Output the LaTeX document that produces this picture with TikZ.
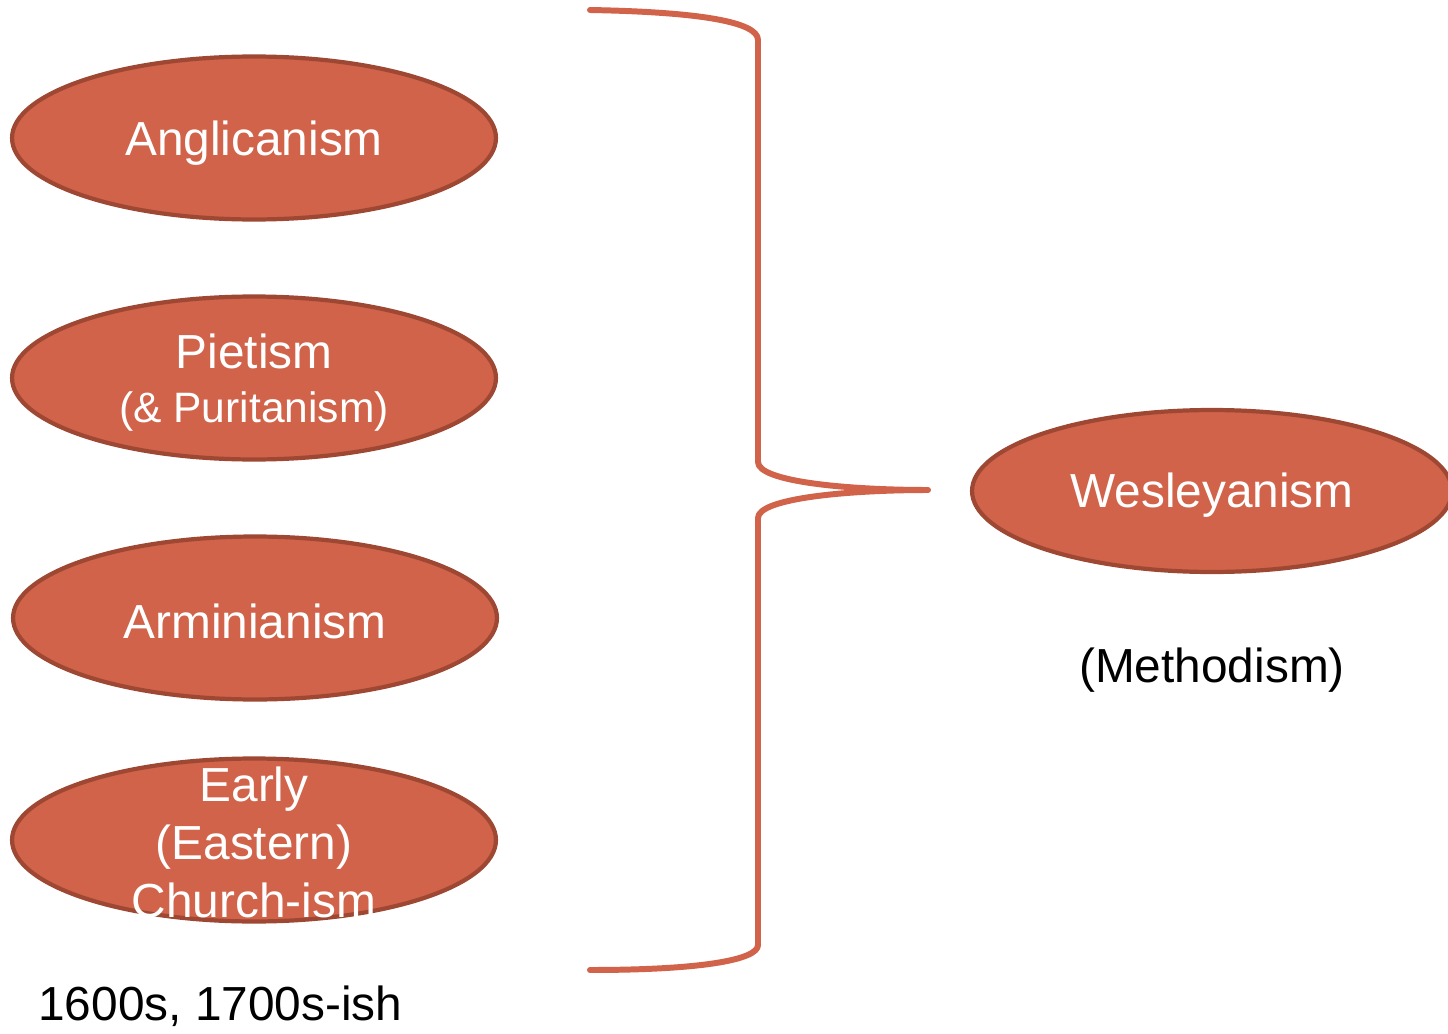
\documentclass[tikz,border=0pt]{standalone}
\usepackage{fontspec}
\setmainfont{Liberation Sans}
\usetikzlibrary{shapes.geometric}
\definecolor{rustfill}{RGB}{208,99,73}
\definecolor{rustedge}{RGB}{158,72,52}

\begin{document}
\begin{tikzpicture}[x=0.02cm,y=-0.02cm,
    bubble/.style={ellipse,fill=rustfill,draw=rustedge,line width=2.4pt,
        minimum width=9.68cm,minimum height=3.26cm,inner sep=0pt},
    bubbletext/.style={text=white,align=center,font=\fontsize{27.2}{33}\selectfont},
    plaintext/.style={text=black,font=\fontsize{27.2}{33}\selectfont}]
    \useasboundingbox (0,0) rectangle (1448,1034);

    % Four roots on the left
    \node[bubble] (angl) at (254,138) {};
    \node[bubbletext,yshift=-0.11cm] (angltext) at (angl.center) {Anglicanism};
    \node[bubble] (piet) at (254,378) {};
    \node[bubbletext,yshift=-0.1cm] (piettext) at (piet.center)
        {Pietism\\[-0.08cm]{\fontsize{24.2}{29}\selectfont(\& Puritanism)}};
    \node[bubble] (armi) at (255,618) {};
    \node[bubbletext,yshift=-0.06cm] (armitext) at (armi.center) {Arminianism};
    \node[bubble] (early) at (254,840) {};
    \node[bubbletext,yshift=-0.04cm] (earlytext) at (early.center) {Early\\(Eastern)\\Church-ism};

    % Brace gathering them
    \coordinate (tip) at (928,490);
    \draw[rustfill,line width=3.4pt,line cap=round,line join=round]
        (590,10) .. controls (700,12) and (758,22) .. (758,40) -- (758,462)
        .. controls (758,482) and (850,490) .. (tip)
        .. controls (850,490) and (758,498) .. (758,518) -- (758,945)
        .. controls (758,960) and (700,970) .. (590,970);

    % Result on the right
    \node[bubble,minimum width=9.6cm,minimum height=3.24cm] (wesl) at (1212,491) {};
    \node[bubbletext,yshift=-0.09cm] (wesltext) at (wesl.center) {Wesleyanism};
    \node[plaintext,yshift=-0.08cm] (meth) at (1212,666) {(Methodism)};
    \node[plaintext,anchor=base west,inner sep=0pt] (era) at (38,1020) {1600s, 1700s-ish};
\end{tikzpicture}
\end{document}
